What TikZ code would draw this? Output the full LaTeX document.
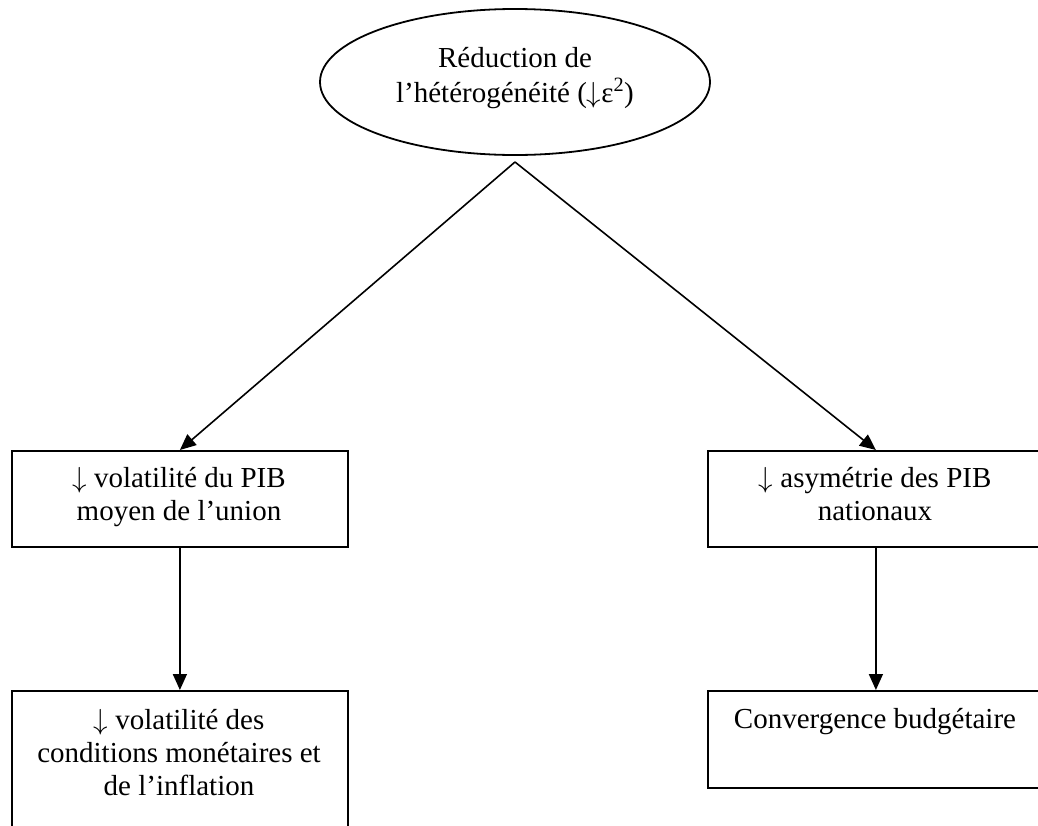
\RequirePackage{fix-cm}
\documentclass[tikz,border=0pt]{standalone}
\usepackage{fontspec}
\setmainfont{Liberation Serif}
\usetikzlibrary{shapes.geometric,arrows.meta}
\newcommand{\dnarr}{$\downarrow$}
\tikzset{
  boxnode/.style={draw, line width=1.8pt, rectangle, inner sep=0pt, anchor=north west},
  ellnode/.style={draw, line width=1.8pt, ellipse, inner sep=0pt, minimum width=390pt, minimum height=146pt},
  txt/.style={anchor=north, inner sep=0pt, align=center, font=\fontsize{29}{33}\selectfont},
  conn/.style={line width=1.6pt, -{Triangle[length=16pt,width=14pt]}}
}
\begin{document}
\begin{tikzpicture}[x=1pt,y=-1pt]
\useasboundingbox (0,0) rectangle (1038,825);
\fill[white] (0,0) rectangle (1038,825);
\clip (0,0) rectangle (1038,825);
% top ellipse
\node[ellnode] (top) at (515,82) {};
\node[txt] (toptxt) at (515,67-23.1) {\strut Réduction de\\\strut l’hétérogénéité (\dnarr ε\textsuperscript{2})};
\coordinate (apex) at (515,162);
% boxes
\node[boxnode, minimum width=336pt, minimum height=96pt] (b1) at (11,450) {};
\node[txt] (b1txt) at (179,487-23.1) {\strut \dnarr{} volatilité du PIB\\\strut moyen de l’union};
\node[boxnode, minimum width=336pt, minimum height=96pt] (b2) at (707,450) {};
\node[txt] (b2txt) at (875,487-23.1) {\strut \dnarr{} asymétrie des PIB\\\strut nationaux};
\node[boxnode, minimum width=336pt, minimum height=160pt] (b3) at (11,690) {};
\node[txt] (b3txt) at (179,729-23.1) {\strut \dnarr{} volatilité des\\\strut conditions monétaires et\\\strut de l’inflation};
\node[boxnode, minimum width=336pt, minimum height=97pt] (b4) at (707,690) {};
\node[txt] (b4txt) at (875,728-23.1) {\strut Convergence budgétaire};
% connectors
\draw[conn] (apex) -- (b1.north);
\draw[conn] (apex) -- (b2.north);
\draw[conn] (b1.south) -- (b3.north);
\draw[conn] (b2.south) -- (b4.north);
\end{tikzpicture}
\end{document}
